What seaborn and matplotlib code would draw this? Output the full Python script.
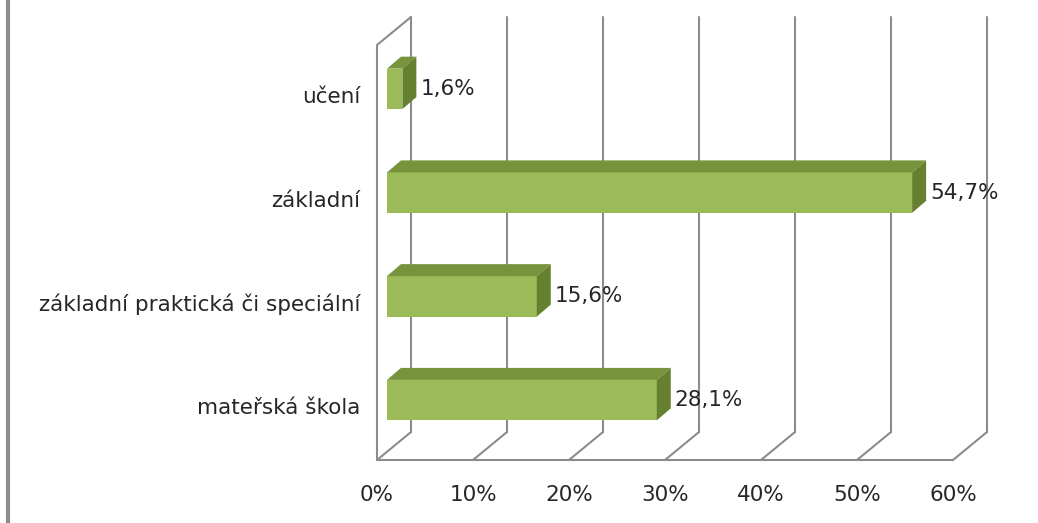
import numpy as np
import pandas as pd
import matplotlib
matplotlib.use("Agg")
import matplotlib.pyplot as plt
import seaborn as sns
from matplotlib.patches import Polygon
from matplotlib.lines import Line2D
from matplotlib.transforms import IdentityTransform

# data
kategorie = ['učení', 'základní', 'základní praktická či speciální', 'mateřská škola']
podily = [1.6, 54.7, 15.6, 28.1]
ticky = [0, 10, 20, 30, 40, 50, 60]
tick_popisky = ['0%', '10%', '20%', '30%', '40%', '50%', '60%']

df = pd.DataFrame({'kategorie': kategorie, 'podil': podily})

sns.set_style('white')
plt.rcParams['font.family'] = ['DejaVu Sans']

barva_predni = '#9bbb59'
barva_horni = '#77933c'
barva_bok = '#65812f'
barva_mrizka = '#8c8c8c'
barva_text = '#262626'
vel = 15.5

fig = plt.figure(figsize=(10.38, 5.23), dpi=100)
# osa = rovina sloupcu (stredni hloubka 3D grafu)
ax = fig.add_axes([387 / 1038, (523 - 452) / 523, 576 / 1038, 415 / 523])
sns.barplot(data=df, x='podil', y='kategorie', orient='h', color=barva_predni,
            saturation=1, width=0.39, ax=ax, zorder=3, edgecolor='none', linewidth=0)
ax.set_xlim(0, 60)
ax.set_ylim(3.5, -0.5)
ax.axis('off')

# posuny v pixelech
pred = np.array([-10, -8])   # predni rovina
zad = np.array([24, 20])     # zadni stena
hloubka = np.array([14, 12])  # hloubka sloupce


def px(x, y):
    return ax.transData.transform((x, y))


ident = IdentityTransform()
y_dole, y_nahore = 3.5, -0.5

# zadni stena - svisle cary
for t in ticky:
    a = px(t, y_dole) + zad
    b = px(t, y_nahore) + zad
    fig.add_artist(Line2D([a[0], b[0]], [a[1], b[1]], transform=ident,
                          color=barva_mrizka, lw=1.5, zorder=1))
    # podlaha - sikme cary
    c = px(t, y_dole) + pred
    fig.add_artist(Line2D([c[0], a[0]], [c[1], a[1]], transform=ident,
                          color=barva_mrizka, lw=1.5, zorder=1))

# predni hrana podlahy
a = px(ticky[0], y_dole) + pred
b = px(ticky[-1], y_dole) + pred
fig.add_artist(Line2D([a[0], b[0]], [a[1], b[1]], transform=ident,
                      color=barva_mrizka, lw=1.5, zorder=1))
# leva stena
c = px(ticky[0], y_nahore) + pred
d = px(ticky[0], y_nahore) + zad
fig.add_artist(Line2D([a[0], c[0], d[0]], [a[1], c[1], d[1]], transform=ident,
                      color=barva_mrizka, lw=1.5, zorder=1))

# 3D steny sloupcu
for p in ax.patches:
    x0, y0 = p.get_x(), p.get_y()
    x1, y1 = x0 + p.get_width(), y0 + p.get_height()
    lt = px(x0, y0)
    rt = px(x1, y0)
    rb = px(x1, y1)
    horni = [lt, rt, rt + hloubka, lt + hloubka]
    bok = [rt, rb, rb + hloubka, rt + hloubka]
    fig.add_artist(Polygon(horni, closed=True, transform=ident,
                           facecolor=barva_horni, edgecolor='none', zorder=4))
    fig.add_artist(Polygon(bok, closed=True, transform=ident,
                           facecolor=barva_bok, edgecolor='none', zorder=4))
    p.set_zorder(5)

ax.set_zorder(3)
ax.patch.set_visible(False)

# popisky hodnot
for i, v in enumerate(podily):
    q = px(v, i) + np.array([18, 0])
    fig.text(q[0] / fig.bbox.width, q[1] / fig.bbox.height,
             f'{v:.1f}%'.replace('.', ','), ha='left', va='center',
             fontsize=vel, color=barva_text)

# popisky kategorii
for i, k in enumerate(kategorie):
    q = px(0, i) + pred + np.array([-17, 0])
    fig.text(q[0] / fig.bbox.width, q[1] / fig.bbox.height, k,
             ha='right', va='center', fontsize=vel, color=barva_text)

# popisky osy x
for t, s in zip(ticky, tick_popisky):
    q = px(t, y_dole) + pred + np.array([0, -35])
    fig.text(q[0] / fig.bbox.width, q[1] / fig.bbox.height, s,
             ha='center', va='center', fontsize=vel, color=barva_text)

# svisla cara vlevo (okraj)
fig.add_artist(Line2D([8, 8], [0, 523], transform=ident, color='#8c8c8c', lw=3))

fig.savefig('out.png', dpi=100, facecolor='white')
